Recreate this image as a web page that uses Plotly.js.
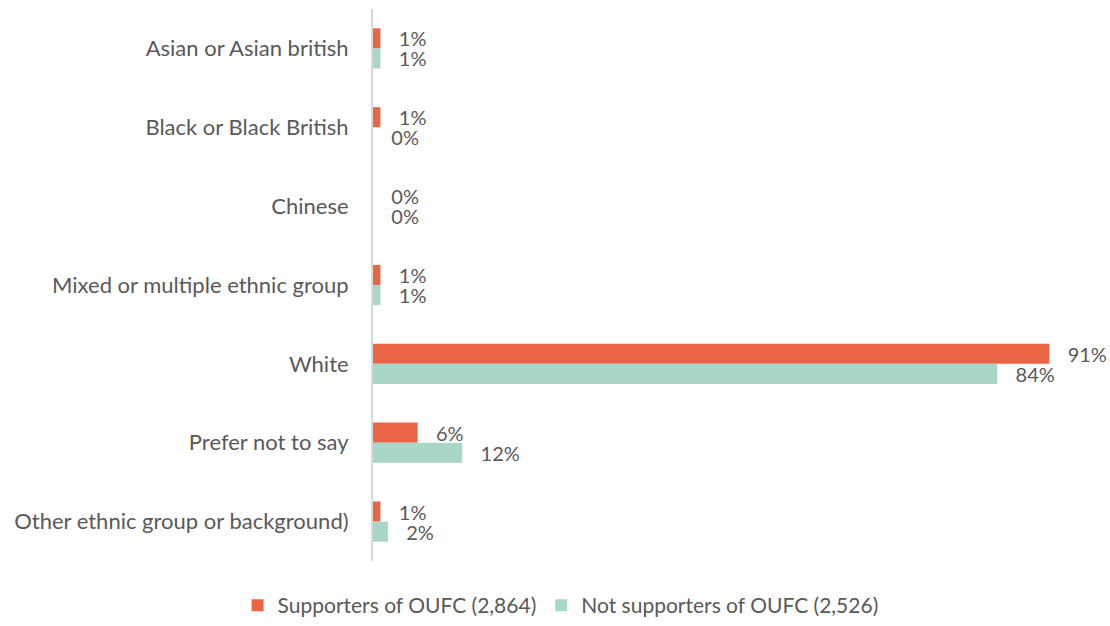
<!DOCTYPE html>
<html>
<head>
<meta charset="utf-8">
<script src="https://cdn.plot.ly/plotly-3.0.1.min.js"></script>
<style>html,body{margin:0;padding:0;background:#fff;}#chart{width:1110px;height:626px;}</style>
</head>
<body>
<div id="chart"></div>
<script>
const categories = [
  "Asian or Asian british",
  "Black or Black British",
  "Chinese",
  "Mixed or multiple ethnic group",
  "White",
  "Prefer not to say",
  "Other ethnic group or background)"
];
const supporters = [1, 1, 0, 1, 91, 6, 1];
const nonSupporters = [1, 0, 0, 1, 84, 12, 2];
const seriesNames = ["Supporters of OUFC (2,864)", "Not supporters of OUFC (2,526)"];

const font = "Lato, 'Open Sans', sans-serif";
const textColor = "#595959";

function barTrace(name, values, color) {
  return {
    type: "bar",
    orientation: "h",
    name: name,
    y: categories,
    x: values,
    marker: {color: color},
    text: values.map(v => "\u00a0\u00a0\u00a0" + v + "%"),
    textposition: "outside",
    constraintext: "none",
    cliponaxis: false,
    textfont: {family: font, size: 20, color: textColor},
    hoverinfo: "skip"
  };
}

const data = [
  barTrace(seriesNames[0], supporters, "#EA6546"),
  barTrace(seriesNames[1], nonSupporters, "#A9D6C8")
];

const layout = {
  width: 1110,
  height: 626,
  paper_bgcolor: "#fff",
  plot_bgcolor: "#fff",
  margin: {l: 373, r: 31, t: 9, b: 65},
  barmode: "group",
  bargap: 0.49,
  bargroupgap: 0,
  showlegend: true,
  legend: {
    orientation: "h",
    xref: "container", yref: "container",
    x: 0.505, xanchor: "center",
    y: -0.008, yanchor: "bottom",
    font: {family: font, size: 21, color: textColor},
    itemwidth: 30,
    traceorder: "normal"
  },
  xaxis: {
    range: [0, 95],
    showgrid: false, zeroline: false, showticklabels: false, showline: false, fixedrange: true
  },
  yaxis: {
    autorange: "reversed",
    showgrid: false, zeroline: false,
    showline: true, linecolor: "#D9D9D9", linewidth: 2,
    ticks: "", ticklabelstandoff: 18,
    tickfont: {family: font, size: 22, color: textColor},
    fixedrange: true
  },
  font: {family: font, color: textColor}
};

Plotly.newPlot("chart", data, layout, {displayModeBar: false, staticPlot: true});
</script>
</body>
</html>
